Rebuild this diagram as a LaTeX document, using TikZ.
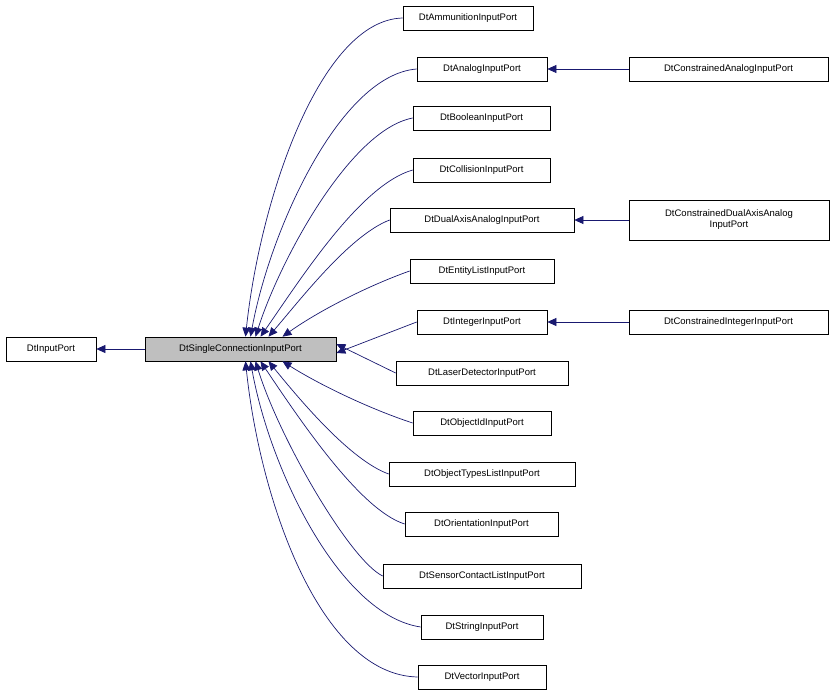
\documentclass[tikz,border=0pt]{standalone}
\usepackage{fontspec}
\setmainfont{Liberation Sans}
\usetikzlibrary{arrows.meta}
\begin{document}
\begin{tikzpicture}[x=1pt,y=-1pt,
  box/.style={draw,line width=0.7pt,inner sep=0pt,minimum height=24pt,font=\fontsize{9.5}{11}\selectfont,align=center,anchor=center},
  edge/.style={draw=blue!30!black!90,color={rgb,255:red,25;green,25;blue,112},line width=0.7pt,-{Triangle[length=9pt,width=8pt]}}]
\useasboundingbox (0,0) rectangle (835,696);
\node[box,minimum width=90pt] (ip) at (51,349) {DtInputPort};
\node[box,minimum width=191pt,fill={rgb,255:red,191;green,191;blue,191}] (sc) at (240.5,349) {DtSingleConnectionInputPort};
\def\mk#1#2#3#4#5{\node[box,minimum width=#4pt] (#1) at (#2,#3) {#5};}
\mk{a}{468}{18}{130}{DtAmmunitionInputPort}
\mk{b}{482}{69}{130}{DtAnalogInputPort}
\mk{c}{481.5}{118}{137}{DtBooleanInputPort}
\mk{d}{481.5}{170}{137}{DtCollisionInputPort}
\mk{e}{482}{220}{184}{DtDualAxisAnalogInputPort}
\mk{f}{482}{271}{144}{DtEntityListInputPort}
\mk{g}{482}{322}{130}{DtIntegerInputPort}
\mk{h}{482}{373}{172}{DtLaserDetectorInputPort}
\mk{i}{482}{423}{138}{DtObjectIdInputPort}
\mk{j}{482}{474}{186}{DtObjectTypesListInputPort}
\mk{k}{481.5}{524}{153}{DtOrientationInputPort}
\mk{l}{482}{576}{198}{DtSensorContactListInputPort}
\mk{m}{482}{627}{122}{DtStringInputPort}
\mk{n}{482}{677}{128}{DtVectorInputPort}
\mk{r1}{728.5}{69}{199}{DtConstrainedAnalogInputPort}
\node[box,minimum width=200pt,minimum height=40pt] (r2) at (729,220) {DtConstrainedDualAxisAnalog\\InputPort};
\mk{r3}{728.5}{322}{199}{DtConstrainedIntegerInputPort}
\draw[edge] (sc) -- (ip);
\draw[edge] (r1) -- (b);
\draw[edge] (r2) -- (e);
\draw[edge] (r3) -- (g);
\draw[edge] (a.west) .. controls (320,20) and (260,200) .. ([xshift=5pt]sc.north);
\draw[edge] (b.west) .. controls (340,75) and (270,230) .. ([xshift=10pt]sc.north);
\draw[edge] (c.west) .. controls (350,130) and (280,260) .. ([xshift=15pt]sc.north);
\draw[edge] (d.west) .. controls (360,185) and (300,280) .. ([xshift=20pt]sc.north);
\draw[edge] (e.west) .. controls (350,235) and (300,300) .. ([xshift=28pt]sc.north);
\draw[edge] (f.west) .. controls (370,285) and (320,310) .. ([xshift=42pt]sc.north);
\draw[edge] (g.west) -- ([yshift=-4pt]sc.east);
\draw[edge] (h.west) -- ([yshift=5pt]sc.east);
\draw[edge] (i.west) .. controls (370,409) and (320,385) .. ([xshift=42pt]sc.south);
\draw[edge] (j.west) .. controls (350,460) and (300,400) .. ([xshift=28pt]sc.south);
\draw[edge] (k.west) .. controls (360,510) and (300,420) .. ([xshift=20pt]sc.south);
\draw[edge] (l.west) .. controls (350,560) and (280,440) .. ([xshift=15pt]sc.south);
\draw[edge] (m.west) .. controls (340,615) and (270,470) .. ([xshift=10pt]sc.south);
\draw[edge] (n.west) .. controls (320,675) and (260,500) .. ([xshift=5pt]sc.south);
\end{tikzpicture}
\end{document}
